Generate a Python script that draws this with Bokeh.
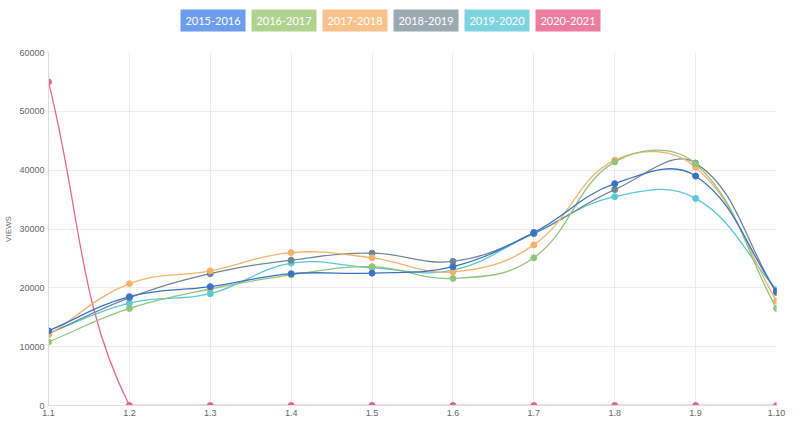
import math
from bokeh.plotting import figure
from bokeh.layouts import column
from bokeh.models import Range1d, FixedTicker
from bokeh.core.properties import value
from bokeh.embed import file_html
from bokeh.resources import INLINE


# Data section ################################################################

x_labels = ["1.1", "1.2", "1.3", "1.4", "1.5", "1.6", "1.7", "1.8", "1.9", "1.10"]
seasons = ["2015-2016", "2016-2017", "2017-2018", "2018-2019", "2019-2020", "2020-2021"]

views_2015_2016 = [12700, 18500, 20200, 22400, 22500, 23600, 29400, 37700, 39000, 19400]
views_2016_2017 = [10800, 16500, 19800, 22200, 23600, 21600, 25100, 41400, 41100, 16500]
views_2017_2018 = [12000, 20700, 22900, 26000, 25100, 22700, 27300, 41700, 40500, 17800]
views_2018_2019 = [12200, 18300, 22400, 24700, 25900, 24500, 29200, 36700, 41200, 19200]
views_2019_2020 = [12300, 17400, 19000, 24200, 23400, 23000, 29300, 35500, 35200, 19700]
views_2020_2021 = [55000, 0, 0, 0, 0, 0, 0, 0, 0, 0]

y_ticks = [0, 10000, 20000, 30000, 40000, 50000, 60000]


# Style section ###############################################################

line_colors = ["#3b72c6", "#93c47d", "#f6b26b", "#6f8795", "#5bc8d8", "#e06693"]
box_colors = ["#6d9eeb", "#b0d38f", "#f9c28c", "#9aa9b2", "#7dd3e0", "#ec7d9f"]
series = [views_2015_2016, views_2016_2017, views_2017_2018,
          views_2018_2019, views_2019_2020, views_2020_2021]

W = 800
LEG_H = 36
MAIN_H = 390
LEFT = 48
RIGHT = 24

y_max = 60000
# approximate pixels per data unit, used for the spline tension like chart.js
x_px = 80.9
y_px = 353.0 / y_max


def spline_controls(xs, ys, t=0.4):
    n = len(xs)
    prev_c = []
    next_c = []
    for i in range(n):
        a = max(i - 1, 0)
        b = min(i + 1, n - 1)
        d01 = math.hypot((xs[i] - xs[a]) * x_px, (ys[i] - ys[a]) * y_px)
        d12 = math.hypot((xs[b] - xs[i]) * x_px, (ys[b] - ys[i]) * y_px)
        tot = d01 + d12
        s01 = d01 / tot if tot else 0
        s12 = d12 / tot if tot else 0
        dx = xs[b] - xs[a]
        dy = ys[b] - ys[a]
        clamp = lambda v: min(max(v, 0), y_max)
        prev_c.append((xs[i] - t * s01 * dx, clamp(ys[i] - t * s01 * dy)))
        next_c.append((xs[i] + t * s12 * dx, clamp(ys[i] + t * s12 * dy)))
    return prev_c, next_c


# Legend row ##################################################################
# the column lines up the frames, so the legend frame spans the same pixels
# as the chart frame below it

leg = figure(width=W, height=LEG_H, x_range=Range1d(LEFT, W - RIGHT), y_range=Range1d(LEG_H, 0),
             x_axis_location=None, y_axis_location=None,
             toolbar_location=None, output_backend="svg",
             min_border_left=LEFT, min_border_right=RIGHT, min_border_top=0, min_border_bottom=0)
leg.grid.visible = False
leg.outline_line_color = None

box_w = 65
gap = 6
start = 390 - (len(seasons) * box_w + (len(seasons) - 1) * gap) / 2.0
centers = [start + box_w / 2.0 + k * (box_w + gap) for k in range(len(seasons))]
leg.rect(x=centers, y=[20] * len(seasons), width=box_w, height=22,
         fill_color=box_colors, line_color=None)
leg.text(x=centers, y=[20] * len(seasons), text=seasons, text_color="white",
         text_font=value("Lato"), text_font_size="11px",
         text_align="center", text_baseline="middle")


# Main plot ###################################################################

xs = list(range(len(x_labels)))

p = figure(width=W, height=MAIN_H, x_range=Range1d(0, len(x_labels) - 1),
           y_range=Range1d(0, y_max), toolbar_location=None, output_backend="svg",
           min_border_left=LEFT, min_border_right=RIGHT, min_border_top=16, min_border_bottom=21)
p.outline_line_color = None

p.xaxis.ticker = FixedTicker(ticks=xs)
p.xaxis.major_label_overrides = {i: lab for i, lab in enumerate(x_labels)}
p.yaxis.ticker = FixedTicker(ticks=y_ticks)
p.yaxis.axis_label = "VIEWS"
p.yaxis.axis_label_text_font_style = "normal"
p.yaxis.axis_label_text_font_size = "8px"
p.yaxis.axis_label_text_color = "#666666"
p.yaxis.axis_label_text_font = "Liberation Sans"
p.yaxis.axis_label_standoff = 3

for ax in [p.xaxis, p.yaxis]:
    ax.major_label_text_font = "Liberation Sans"
    ax.major_label_text_font_size = "9px"
    ax.major_label_text_color = "#666666"
    ax.major_tick_out = 0
    ax.minor_tick_out = 0
    ax.major_tick_line_color = None
    ax.minor_tick_line_color = None
    ax.axis_line_color = "#dcdcdc"
    ax.major_label_standoff = 4

p.xgrid.ticker = FixedTicker(ticks=xs)
p.ygrid.ticker = FixedTicker(ticks=y_ticks)
p.grid.grid_line_color = "#ebebeb"

# chart.js draws the first dataset on top, so go backwards
for ys, color in reversed(list(zip(series, line_colors))):
    prev_c, next_c = spline_controls(xs, ys)
    p.bezier(x0=xs[:-1], y0=ys[:-1], x1=xs[1:], y1=ys[1:],
             cx0=[c[0] for c in next_c[:-1]], cy0=[c[1] for c in next_c[:-1]],
             cx1=[c[0] for c in prev_c[1:]], cy1=[c[1] for c in prev_c[1:]],
             line_color=color, line_width=1.3)
    p.scatter(xs, ys, size=6, fill_color=color, line_color=color)

layout = column(leg, p, spacing=0)

open("out.html", "w").write(file_html(layout, INLINE))
